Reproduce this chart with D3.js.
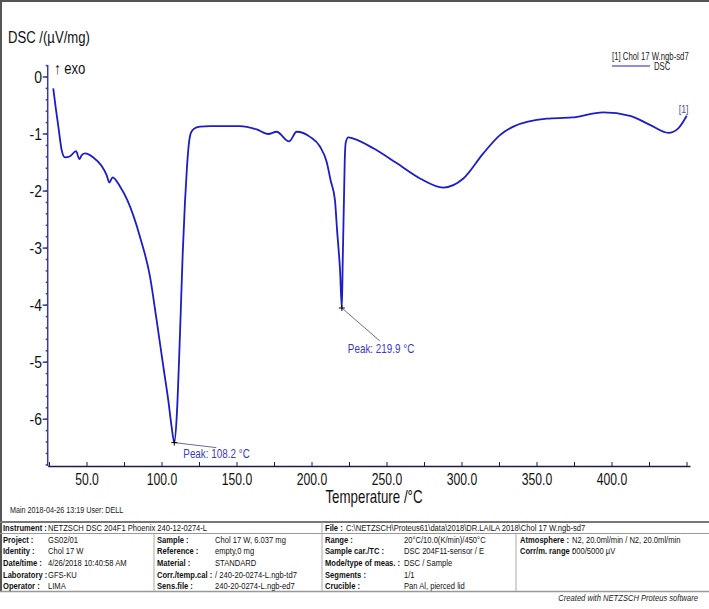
<!DOCTYPE html>
<html><head><meta charset="utf-8">
<script src="https://cdn.jsdelivr.net/npm/d3@7"></script>
<style>
body{margin:0;background:#fff}
text{font-family:"Liberation Sans",Arial,sans-serif}
</style>
</head><body>
<svg id="c" width="709" height="609"></svg>
<script>
// ---- data ----
const temps = [27.5, 29.2, 30.9, 33.1, 35.3, 38.7, 42.7, 44.9, 46.5, 48.7, 54.2, 59.8, 63.1, 64.9, 67.1, 72, 76.9,
  85.3, 92, 96.4, 100.9, 104.2, 106.4, 108.2, 109.8, 112, 113.8, 115.3, 116.6, 117.8, 119, 120.5, 122.5, 125.3,
  132, 152, 163.1, 170.9, 176.4, 184.7, 189.8, 198.7, 205.3, 209.8, 212.4, 215.3, 216.7, 218.7, 219.9,
  220.5, 221.3, 221.8, 222.5, 224.2, 227.5, 240.9, 256.4, 272, 287.5, 300.9, 314.2, 325.3, 334.2,
  356.4, 373.1, 394.2, 412, 425.3, 437.6, 444.2, 449.8];
const dsc = [-0.2, -0.55, -0.87, -1.28, -1.41, -1.39, -1.30, -1.44, -1.37, -1.34, -1.41, -1.56, -1.72, -1.85, -1.76, -1.92, -2.16,
  -2.80, -3.50, -4.26, -5.08, -5.67, -6.13, -6.41, -5.96, -4.50, -3.10, -2.20, -1.60, -1.20, -1.00, -0.93, -0.89, -0.87,
  -0.86, -0.86, -0.92, -1.00, -0.96, -1.13, -0.96, -1.05, -1.22, -1.49, -1.81, -2.16, -2.68, -3.39, -4.05,
  -3.2, -2.16, -1.5, -1.15, -1.06, -1.08, -1.25, -1.51, -1.78, -1.94, -1.78, -1.34, -1.02, -0.87,
  -0.73, -0.71, -0.62, -0.68, -0.84, -0.98, -0.90, -0.68];
const yTicks = [0, -1, -2, -3, -4, -5, -6];
const xTicks = [50, 100, 150, 200, 250, 300, 350, 400];
const peakTemps = [108.2, 219.9];
const peakValues = [-6.41, -4.05];
const peakLabels = ["Peak: 108.2 °C", "Peak: 219.9 °C"];
const legendTitle = "[1] Chol 17  W.ngb-sd7";
const legendSeries = "DSC";
const instrumentRow = [["Instrument :", "NETZSCH DSC 204F1 Phoenix 240-12-0274-L"], ["File :", "C:\\NETZSCH\\Proteus61\\data\\2018\\DR.LAILA 2018\\Chol 17  W.ngb-sd7"]];
const col1 = [["Project :", "GS02/01"], ["Identity :", "Chol 17  W"], ["Date/time :", "4/26/2018 10:40:58 AM"], ["Laboratory :", "GFS-KU"], ["Operator :", "LIMA"]];
const col2 = [["Sample :", "Chol 17  W, 6.037 mg"], ["Reference :", "empty,0 mg"], ["Material :", "STANDARD"], ["Corr./temp.cal :", " / 240-20-0274-L.ngb-td7"], ["Sens.file :", "240-20-0274-L.ngb-ed7"]];
const col3 = [["Range :", "20°C/10.0(K/min)/450°C"], ["Sample car./TC :", "DSC 204F11-sensor / E"], ["Mode/type of meas. :", "DSC / Sample"], ["Segments :", "1/1"], ["Crucible :", "Pan Al, pierced lid"]];
const col4 = [["Atmosphere :", "N2, 20.0ml/min / N2, 20.0ml/min"], ["Corr/m. range :", "000/5000 µV"]];

// ---- drawing ----
const svg = d3.select("#c");
const x = d3.scaleLinear().domain([23.8, 452]).range([47.7, 690]);
const y = d3.scaleLinear().domain([0.21, -6.82]).range([65, 466]);
const blue = "#1c1cc8", axisBlue = "#3a3aa0";
// condensed text helper
function T(parent, tx, ty, str, o = {}) {
  const t = parent.append("text")
    .attr("transform", `translate(${tx},${ty}) scale(${o.sx || 0.8},1)`)
    .attr("font-size", o.size || 10).attr("fill", o.fill || "#111")
    .attr("text-anchor", o.anchor || "start").text(str);
  if (o.dy) t.attr("dy", o.dy);
  if (o.weight) t.attr("font-weight", o.weight);
  if (o.style) t.attr("font-style", o.style);
  return t;
}

// frame
svg.append("line").attr("x1",1).attr("y1",0).attr("x2",1).attr("y2",592).attr("stroke","#555").attr("stroke-width",2);
svg.append("line").attr("x1",0).attr("y1",1).attr("x2",709).attr("y2",1).attr("stroke","#555").attr("stroke-width",2);

// y axis
const yMinor = d3.range(0.2, -6.81, -0.2).map(d => +d.toFixed(1));
const yAx = svg.append("g");
yAx.append("line").attr("x1",x(23.8)).attr("x2",x(23.8)).attr("y1",y(0.21)).attr("y2",y(-6.82)).attr("stroke",axisBlue).attr("stroke-width",1.5);
yAx.selectAll(".mn").data(yMinor).join("line")
  .attr("x1",x(23.8)-2).attr("x2",x(23.8)).attr("y1",d=>y(d)).attr("y2",d=>y(d)).attr("stroke",axisBlue).attr("stroke-width",1.5);
yAx.selectAll(".mj").data(yTicks).join("line")
  .attr("x1",x(23.8)-5).attr("x2",x(23.8)).attr("y1",d=>y(d)).attr("y2",d=>y(d)).attr("stroke",axisBlue).attr("stroke-width",1.5);
yTicks.forEach(d => T(yAx, 42, y(d), String(d), {size:17, sx:0.82, anchor:"end", dy:"0.36em"}));

// x axis
const xAxis = d3.axisBottom(x).tickValues(d3.range(25, 451, 25)).tickSize(0).tickFormat("");
const xg = svg.append("g").attr("transform",`translate(0,${y(-6.82)})`).call(xAxis);
xg.select(".domain").attr("stroke","#1a1a50").attr("stroke-width",1.5);
svg.selectAll(".xt").data(d3.range(25, 451, 25)).join("line")
  .attr("x1",d=>x(d)).attr("x2",d=>x(d)).attr("y1",y(-6.82)).attr("y2",y(-6.82)-4).attr("stroke","#1a1a50");
xTicks.forEach(d => T(svg, x(d), 485, d3.format(".1f")(d), {size:16, sx:0.76, anchor:"middle"}));
T(svg, 374, 503, "Temperature /°C", {size:18, sx:0.74, anchor:"middle"});

// titles
T(svg, 8, 43, "DSC /(µV/mg)", {size:16, sx:0.82});
T(svg, 54, 74, "↑ exo", {size:16, sx:0.82});

// curve
const pts = temps.map((t,i)=>[t,dsc[i]]);
svg.append("path").datum(pts)
  .attr("d", d3.line().x(d=>x(d[0])).y(d=>y(d[1])).curve(d3.curveMonotoneX))
  .attr("fill","none").attr("stroke",blue).attr("stroke-width",1.8);
T(svg, x(temps[temps.length-1])-8, y(dsc[dsc.length-1])-3, "[1]", {size:11, fill:"#5050a0"});

// peaks
const pOff = [[42,5],[38,33]];
const tOff = [[9,15],[6,45]];
peakTemps.forEach((t,i)=>{
  const px = x(t), py = y(peakValues[i]);
  svg.append("line").attr("x1",px).attr("y1",py).attr("x2",px+pOff[i][0]).attr("y2",py+pOff[i][1]).attr("stroke","#6a6a9a").attr("stroke-width",1);
  svg.append("path").attr("d",`M${px-3},${py}H${px+3}M${px},${py-3}V${py+3}`).attr("stroke","#000").attr("stroke-width",1);
  T(svg, px+tOff[i][0], py+tOff[i][1], peakLabels[i], {size:13, sx:0.76, fill:"#3a3ac0"});
});

// legend
T(svg, 612, 60, legendTitle, {size:10.5, sx:0.74, fill:"#222"});
svg.append("line").attr("x1",612).attr("x2",650).attr("y1",66).attr("y2",66).attr("stroke",blue).attr("stroke-width",1.2);
T(svg, 654, 70, legendSeries, {size:10.5, sx:0.74, fill:"#222"});

// footer
T(svg, 10, 513, "Main   2018-04-26 13:19    User: DELL", {size:9, fill:"#222"});

// table
const tb = svg.append("g");
const hl = (yy,c,w)=>tb.append("line").attr("x1",0).attr("x2",709).attr("y1",yy).attr("y2",yy).attr("stroke",c).attr("stroke-width",w);
hl(522,"#777",2); hl(533.5,"#999",1); hl(591.5,"#999",1.5);
const vl = (xx,y1)=>tb.append("line").attr("x1",xx).attr("x2",xx).attr("y1",y1).attr("y2",591.5).attr("stroke","#aaa").attr("stroke-width",1);
vl(154,533.5); vl(322,522); vl(516,533.5);
const rowY0 = 528, rowY = [539.5,551,562.8,574.4,586];
const cell = (lx,vx,yy,pair)=>{
  T(tb, lx, yy, pair[0], {size:9.5, weight:"bold", dy:"0.35em"});
  T(tb, vx, yy, pair[1], {size:9.5, dy:"0.35em"});
};
cell(3,48,rowY0,instrumentRow[0]);
cell(325,346,rowY0,instrumentRow[1]);
col1.forEach((p,i)=>cell(3,48,rowY[i],p));
col2.forEach((p,i)=>cell(157,215,rowY[i],p));
col3.forEach((p,i)=>cell(325,404,rowY[i],p));
col4.forEach((p,i)=>cell(520,572,rowY[i],p));
T(svg, 698, 601, "Created with NETZSCH Proteus software", {size:9.5, anchor:"end", style:"italic", fill:"#222"});
</script>
</body></html>
